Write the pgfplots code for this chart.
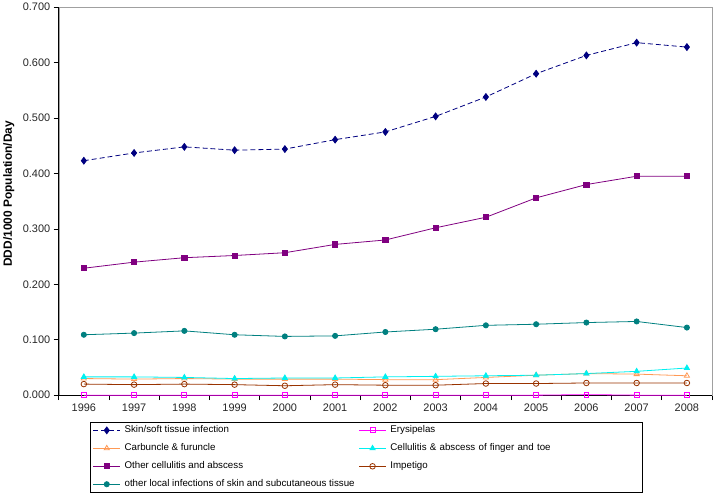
\documentclass[border=0pt]{standalone}
\usepackage{pgfplots}
\pgfplotsset{compat=1.18}
\usepackage{fontspec}
\setmainfont{Liberation Sans}

\definecolor{cNavy}{HTML}{000080}
\definecolor{cMag}{HTML}{FF00FF}
\definecolor{cOrange}{HTML}{FF9955}
\definecolor{cCyan}{HTML}{00F0F0}
\definecolor{cPurple}{HTML}{800080}
\definecolor{cBrown}{HTML}{993300}
\definecolor{cTeal}{HTML}{008080}
\definecolor{cFrame}{HTML}{A0A0A0}

\begin{document}
\begin{tikzpicture}
\begin{axis}[
    scale only axis,
    width=655bp, height=389bp,
    xmin=1995.5, xmax=2008.5,
    ymin=0, ymax=0.7,
    axis line style={cFrame},
    clip=false,
    % year boundaries carry the tick marks, years carry the labels
    xtick={1995.5,1996.5,...,2008.5},
    xticklabels={},
    extra x ticks={1996,1997,...,2008},
    extra x tick labels={1996,1997,1998,1999,2000,2001,2002,2003,2004,2005,2006,2007,2008},
    extra x tick style={major tick length=0pt, tick label style={yshift=-5bp}},
    ytick={0,0.1,...,0.7},
    yticklabel style={/pgf/number format/.cd, fixed, fixed zerofill, precision=3},
    /pgf/number format/assume math mode=true,
    tick align=outside,
    major tick length=5bp,
    tick style={black, line width=0.6bp},
    tick label style={font=\fontsize{11}{13}\selectfont, text=black!85},
    ylabel={\textbf{DDD/1000 Population/Day}},
    ylabel style={font=\fontsize{12}{14}\selectfont, at={(axis description cs:-0.0763,0.519)}, anchor=center},
    xtick pos=bottom, ytick pos=left,
    every axis plot/.append style={line width=0.8bp, mark size=2.8bp},
    legend image code/.code={\draw[mark repeat=2,mark phase=2,#1] plot coordinates {(0bp,0bp)(13.5bp,0bp)(27bp,0bp)};},
    legend columns=2,
    legend style={
        at={(0.0473,-0.0694)}, anchor=north west,
        draw=black, line width=0.6bp, fill=white,
        font=\fontsize{9.8}{11}\selectfont,
        inner xsep=3bp, inner ysep=3bp,
        row sep=8bp,
        nodes={inner sep=0bp, text height=7.5bp, text depth=2.5bp, anchor=west},
        /tikz/every odd column/.append style={column sep=4bp},
        /tikz/column 2/.style={column sep=4bp},
        /tikz/column 4/.style={nodes={text width=250bp, align=left}},
    },
]
\draw[black, line width=0.8bp] (rel axis cs:0,0) -- (rel axis cs:0,1);
\draw[black, line width=0.8bp] (rel axis cs:0,0) -- (rel axis cs:1,0);
\coordinate (ll) at (rel axis cs:0,0);
\coordinate (ur) at (rel axis cs:1,1);

% Skin/soft tissue infection
\addplot[color=cNavy, dash pattern=on 5bp off 3bp, mark=diamond*, mark size=3.4bp, mark options={solid}] coordinates {
    (1996,0.423) (1997,0.437) (1998,0.448) (1999,0.442) (2000,0.444) (2001,0.461) (2002,0.475)
    (2003,0.503) (2004,0.538) (2005,0.580) (2006,0.613) (2007,0.636) (2008,0.628)
};
\addlegendentry{Skin/soft tissue infection}

% Erysipelas
\addplot[color=cMag, mark=square, mark size=2.5bp] coordinates {
    (1996,0.000) (1997,0.000) (1998,0.000) (1999,0.000) (2000,0.000) (2001,0.000) (2002,0.000)
    (2003,0.000) (2004,0.000) (2005,0.000) (2006,0.001) (2007,0.000) (2008,0.000)
};
\addlegendentry{Erysipelas}

% Carbuncle & furuncle
\addplot[color=cOrange, mark=triangle, mark size=3bp] coordinates {
    (1996,0.030) (1997,0.029) (1998,0.030) (1999,0.029) (2000,0.029) (2001,0.029) (2002,0.028)
    (2003,0.028) (2004,0.032) (2005,0.036) (2006,0.039) (2007,0.038) (2008,0.035)
};
\addlegendentry{Carbuncle \& furuncle}

% Cellulitis & abscess of finger and toe
\addplot[color=cCyan, mark=triangle*, mark size=3bp] coordinates {
    (1996,0.033) (1997,0.033) (1998,0.032) (1999,0.030) (2000,0.031) (2001,0.031) (2002,0.033)
    (2003,0.034) (2004,0.035) (2005,0.036) (2006,0.039) (2007,0.043) (2008,0.049)
};
\addlegendentry{Cellulitis \& abscess of finger and toe}

% Other cellulitis and abscess
\addplot[color=cPurple, mark=square*, mark size=2.6bp] coordinates {
    (1996,0.229) (1997,0.240) (1998,0.248) (1999,0.252) (2000,0.257) (2001,0.272) (2002,0.280)
    (2003,0.302) (2004,0.321) (2005,0.356) (2006,0.380) (2007,0.395) (2008,0.395)
};
\addlegendentry{Other cellulitis and abscess}

% Impetigo
\addplot[color=cBrown, mark=o, mark size=2.8bp] coordinates {
    (1996,0.020) (1997,0.019) (1998,0.020) (1999,0.019) (2000,0.017) (2001,0.019) (2002,0.018)
    (2003,0.018) (2004,0.021) (2005,0.021) (2006,0.022) (2007,0.022) (2008,0.022)
};
\addlegendentry{Impetigo}

% other local infections of skin and subcutaneous tissue
\addplot[color=cTeal, mark=*, mark size=2.6bp] coordinates {
    (1996,0.109) (1997,0.112) (1998,0.116) (1999,0.109) (2000,0.106) (2001,0.107) (2002,0.114)
    (2003,0.119) (2004,0.126) (2005,0.128) (2006,0.131) (2007,0.133) (2008,0.122)
};
\addlegendentry{other local infections of skin and subcutaneous tissue}
\end{axis}
\path ([xshift=-57bp,yshift=-96bp]ll) rectangle ([xshift=8bp,yshift=4bp]ur);
\end{tikzpicture}
\end{document}
